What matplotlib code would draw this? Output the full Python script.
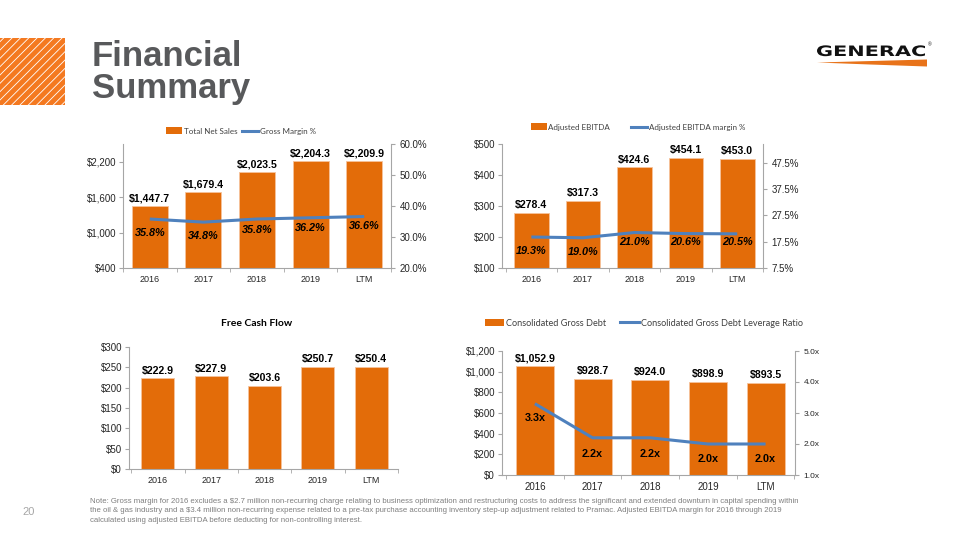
import matplotlib
matplotlib.use("Agg")
from matplotlib import pyplot as plt
from matplotlib.patches import Rectangle, Polygon, Patch, PathPatch
from matplotlib.lines import Line2D
from matplotlib.textpath import TextPath
from matplotlib.font_manager import FontProperties
from matplotlib.transforms import Affine2D, IdentityTransform

YEARS = ["2016", "2017", "2018", "2019", "LTM"]
NET_SALES = [1447.7, 1679.4, 2023.5, 2204.3, 2209.9]
GROSS_MARGIN = [35.8, 34.8, 35.8, 36.2, 36.6]
EBITDA = [278.4, 317.3, 424.6, 454.1, 453.0]
EBITDA_MARGIN = [19.3, 19.0, 21.0, 20.6, 20.5]
FCF = [222.9, 227.9, 203.6, 250.7, 250.4]
GROSS_DEBT = [1052.9, 928.7, 924.0, 898.9, 893.5]
LEVERAGE = [3.3, 2.2, 2.2, 2.0, 2.0]

ORANGE = "#E36C09"
BLUE = "#4F81BD"
GRID = "#A6A6A6"
TXT = "#262626"
W, H = 959, 540

plt.rcParams["font.family"] = ["Liberation Sans", "DejaVu Sans"]
plt.rcParams["hatch.linewidth"] = 0.6

fig = plt.figure(figsize=(W / 100, H / 100), dpi=100)


def px_rect(left, top, right, bottom):
    return [left / W, 1 - bottom / H, (right - left) / W, (bottom - top) / H]


def style_axes(ax, xlim):
    ax.set_xlim(*xlim)
    ax.set_xticks(range(len(YEARS)))
    ax.set_xticklabels(YEARS, fontsize=6.5, color=TXT)
    ax.set_xticks([i - 0.5 for i in range(len(YEARS) + 1)], minor=True)
    ax.tick_params(axis="x", which="major", length=0, pad=5)
    ax.tick_params(axis="x", which="minor", length=3, color=GRID, direction="out")
    ax.tick_params(axis="y", length=3, color=GRID, labelsize=7, labelcolor=TXT, pad=2)
    for side in ["top", "right"]:
        ax.spines[side].set_visible(False)
    for side in ["left", "bottom"]:
        ax.spines[side].set_color(GRID)
        ax.spines[side].set_linewidth(0.8)


def draw_bars(ax, values, width, fmt):
    x = range(len(values))
    ax.bar(x, values, width, color=ORANGE, edgecolor="#F6C39B", linewidth=0.6, zorder=2)
    for i, v in enumerate(values):
        ax.annotate(fmt.format(v), (i, v), xytext=(0, 2), textcoords="offset points",
                    ha="center", va="bottom", fontsize=7.6, fontweight="bold", color="black")


def draw_line(ax2, values, fmt, off, italic=True):
    x = range(len(values))
    ax2.plot(x, values, color=BLUE, lw=2.2, zorder=3, solid_capstyle="butt")
    for i, v in enumerate(values):
        ax2.annotate(fmt.format(v), (i, v), xytext=(0, off[i]), textcoords="offset points",
                     ha="center", va="center", fontsize=7.8, fontweight="bold",
                     style="italic" if italic else "normal", color="black")


def style_right(ax2, lim, ticks, fmt, size=7):
    ax2.set_ylim(*lim)
    ax2.set_yticks(ticks)
    ax2.set_yticklabels([fmt.format(t) for t in ticks])
    ax2.tick_params(axis="y", length=3, color=GRID, labelsize=size, labelcolor=TXT, pad=3)
    for side in ["top", "left", "bottom"]:
        ax2.spines[side].set_visible(False)
    ax2.spines["right"].set_color(GRID)
    ax2.spines["right"].set_linewidth(0.8)


def add_legend(ax, bar_name, line_name, cx, cy, size, spacing):
    handles = [Patch(facecolor=ORANGE, edgecolor="none"),
               Line2D([], [], color=BLUE, lw=2.2)]
    leg = ax.legend(handles, [bar_name, line_name], loc="center",
                    bbox_to_anchor=(cx / W, 1 - cy / H), bbox_transform=fig.transFigure,
                    ncol=2, frameon=False, handlelength=2.0,
                    handleheight=0.9, handletextpad=0.2, columnspacing=spacing,
                    borderpad=0, prop={"family": ["Lato", "DejaVu Sans"], "size": size})
    for t in leg.get_texts():
        t.set_color("#404040")


# Total net sales
ax = fig.add_axes(px_rect(123, 144, 391, 268))
style_axes(ax, (-0.48, 4.48))
draw_bars(ax, NET_SALES, 0.67, "${:,.1f}")
ax.set_ylim(400, 2500)
ax.set_yticks([400, 1000, 1600, 2200])
ax.set_yticklabels(["${:,.0f}".format(t) for t in [400, 1000, 1600, 2200]])
ax2 = ax.twinx()
style_right(ax2, (20, 60), [20, 30, 40, 50, 60], "{:.1f}%")
draw_line(ax2, GROSS_MARGIN, "{:.1f}%", [-10, -10, -8, -7, -7])
add_legend(ax, "Total Net Sales", "Gross Margin %", 241, 131, 5.8, 0.6)

# Adjusted EBITDA
ax = fig.add_axes(px_rect(502, 144, 763, 268))
style_axes(ax, (-0.57, 4.48))
draw_bars(ax, EBITDA, 0.67, "${:,.1f}")
ax.set_ylim(100, 500)
ax.set_yticks([100, 200, 300, 400, 500])
ax.set_yticklabels(["${:,.0f}".format(t) for t in [100, 200, 300, 400, 500]])
ax2 = ax.twinx()
style_right(ax2, (7.5, 54.7), [7.5, 17.5, 27.5, 37.5, 47.5], "{:.1f}%")
draw_line(ax2, EBITDA_MARGIN, "{:.1f}%", [-10, -10, -7, -6, -6])
add_legend(ax, "Adjusted EBITDA", "Adjusted EBITDA margin %", 638, 127, 5.8, 2.6)

# Free cash flow
ax = fig.add_axes(px_rect(129, 347, 398, 469))
style_axes(ax, (-0.54, 4.49))
draw_bars(ax, FCF, 0.62, "${:,.1f}")
ax.set_ylim(0, 300)
ax.set_yticks(range(0, 301, 50))
ax.set_yticklabels(["${:,.0f}".format(t) for t in range(0, 301, 50)])
fig.text(257 / W, 1 - 324 / H, "Free Cash Flow", ha="center", va="center",
         fontsize=7.5, fontweight="bold", family=["Lato", "DejaVu Sans"], color="black")

# Consolidated gross debt
ax = fig.add_axes(px_rect(502, 351, 795, 475))
style_axes(ax, (-0.57, 4.51))
draw_bars(ax, GROSS_DEBT, 0.66, "${:,.1f}")
ax.set_ylim(0, 1200)
ax.set_yticks(range(0, 1201, 200))
ax.set_yticklabels(["${:,.0f}".format(t) for t in range(0, 1201, 200)])
ax.tick_params(axis="x", labelsize=7)
ax2 = ax.twinx()
style_right(ax2, (1, 5), [1, 2, 3, 4, 5], "{:.1f}x", size=6)
draw_line(ax2, LEVERAGE, "{:.1f}x", [-10, -12, -12, -11, -11], italic=False)
add_legend(ax, "Consolidated Gross Debt", "Consolidated Gross Debt Leverage Ratio", 644, 323, 6.6, 1.6)

# header
fig.add_artist(Rectangle((0, 1 - 105 / H), 65 / W, 67 / H, transform=fig.transFigure,
                         facecolor="#F47920", edgecolor="white", hatch="////", linewidth=0))
fig.text(92 / W, 1 - 66 / H, "Financial", fontsize=25, fontweight="bold", color="#58595B")
fig.text(92 / W, 1 - 98 / H, "Summary", fontsize=25, fontweight="bold", color="#58595B")

# logo
tp = TextPath((0, 0), "GENERAC", size=10, prop=FontProperties(family="DejaVu Sans", weight="bold"))
ext = tp.get_extents()
sx = 108 / ext.width
sy = 10.5 / 7.3
logo = PathPatch(tp, transform=Affine2D().translate(-ext.x0, 0).scale(sx, sy).translate(817, H - 56)
                 + IdentityTransform(), facecolor="#111111", edgecolor="none")
fig.add_artist(logo)
fig.text(928 / W, 1 - 46 / H, "®", fontsize=3.5, color="#111111")
fig.add_artist(Polygon([(817 / W, 1 - 62.5 / H), (927 / W, 1 - 59.5 / H), (927 / W, 1 - 66.5 / H),
                        (870 / W, 1 - 64.5 / H)], closed=True, transform=fig.transFigure,
                       facecolor="#E8731A", edgecolor="none"))

# footnote
note = ("Note: Gross margin for 2016 excludes a $2.7 million non-recurring charge relating to business "
        "optimization and restructuring costs to address the significant and extended downturn in capital spending within\n"
        "the oil & gas industry and a $3.4 million non-recurring expense related to a pre-tax purchase accounting "
        "inventory step-up adjustment related to Pramac. Adjusted EBITDA margin for 2016 through 2019\n"
        "calculated using adjusted EBITDA before deducting for non-controlling interest.")
fig.text(90 / W, 1 - 498 / H, note, fontsize=5.6, color="#7F7F7F", va="top",
         linespacing=1.45, parse_math=False)
fig.text(22 / W, 1 - 512 / H, "20", fontsize=8, color="#A6A6A6", va="center")

fig.savefig("out.png", dpi=100)
